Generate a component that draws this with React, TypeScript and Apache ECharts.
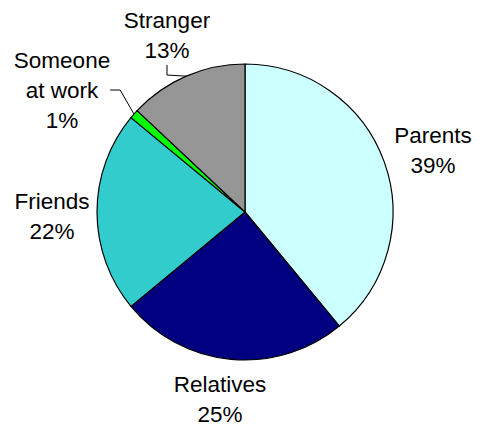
import React, { useEffect, useRef } from "react";
import * as echarts from "echarts";

const categories = ["Parents", "Relatives", "Friends", "Someone at work", "Stranger"];
const values = [39, 25, 22, 1, 13];
const colors = ["#CCFFFF", "#000080", "#33CCCC", "#00FF00", "#969696"];
const showLeader = [false, false, false, true, true];
// label block centres (px) relative to the chart
const labelPos: number[][] = [
  [433, 150],
  [220, 399],
  [52, 216],
  [62, 90],
  [167, 35],
];

export default function App() {
  const ref = useRef<HTMLDivElement>(null);
  useEffect(() => {
    if (!ref.current) return;
    const chart = echarts.init(ref.current, null, { renderer: "svg" });
    chart.setOption({
      animation: false,
      backgroundColor: "#ffffff",
      series: [
        {
          type: "pie",
          center: [245, 212],
          radius: 148,
          startAngle: 90,
          clockwise: true,
          avoidLabelOverlap: false,
          itemStyle: { borderColor: "#000000", borderWidth: 1.2 },
          label: {
            show: true,
            position: "outside",
            color: "#000000",
            fontFamily: "'Liberation Sans', Arial, sans-serif",
            fontSize: 22.5,
            lineHeight: 30,
            align: "center",
            formatter: (p: any) => {
              const n = p.name === "Someone at work" ? "Someone\nat work" : p.name;
              return n + "\n" + p.value + "%";
            },
          },
          labelLine: {
            show: true,
            length: 10,
            length2: 10,
            lineStyle: { color: "#000000", width: 1 },
          },
          labelLayout: (params: any) => {
            const i = params.dataIndex;
            return {
              x: labelPos[i][0],
              y: labelPos[i][1],
              align: "center",
              verticalAlign: "middle",
            };
          },
          data: categories.map((c, i) => ({
            name: c,
            value: values[i],
            itemStyle: { color: colors[i] },
            labelLine: { show: showLeader[i] },
          })),
        },
      ],
    });
    return () => chart.dispose();
  }, []);
  return (
    <div
      ref={ref}
      style={{ position: "fixed", left: 0, top: 0, width: 479, height: 425 }}
    />
  );
}
